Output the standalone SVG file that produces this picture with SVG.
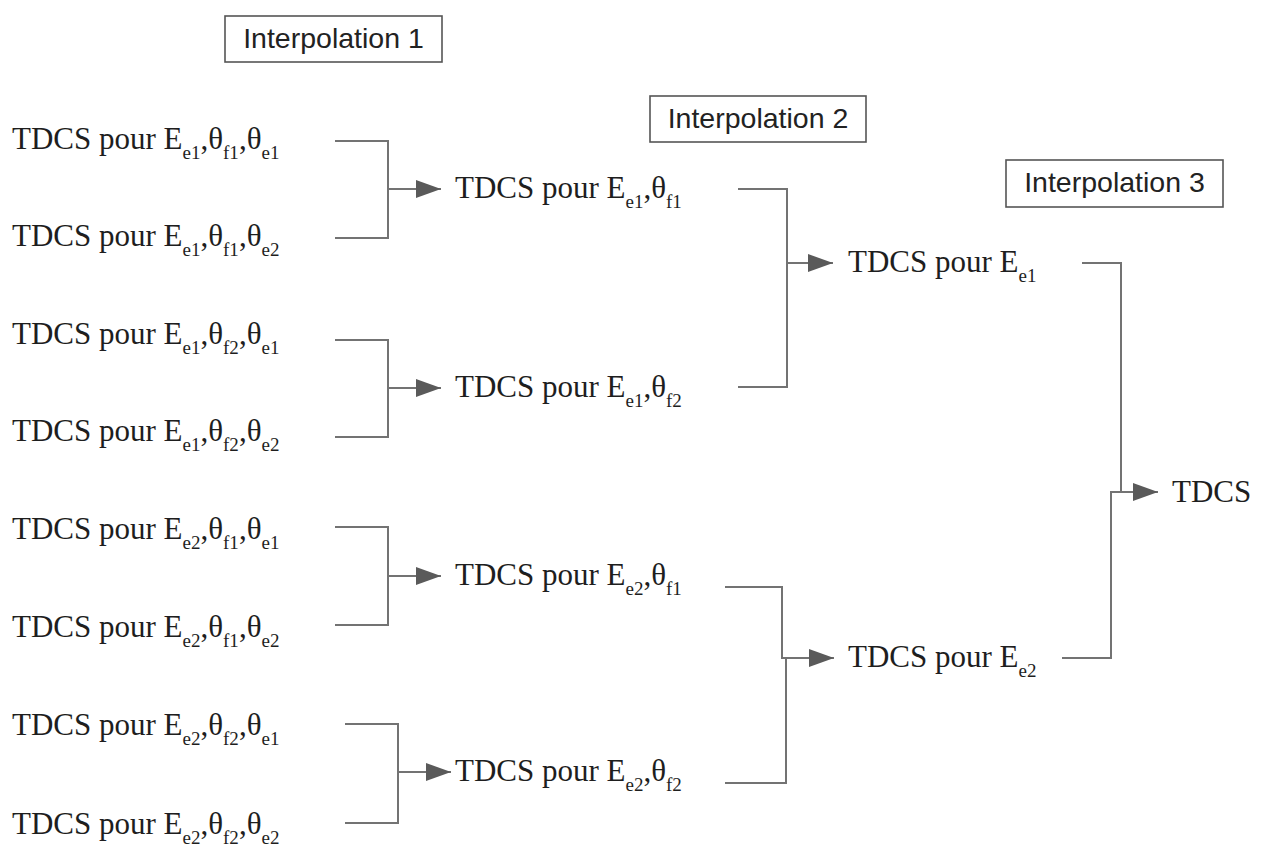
<svg xmlns="http://www.w3.org/2000/svg" width="1269" height="853" viewBox="0 0 1269 853">
<style>
.lbl{font-family:"Liberation Serif","Times New Roman",serif;font-size:31px;fill:#1e1e1e}
.sub{font-size:19px}
.box rect{fill:#fff;stroke:#555;stroke-width:1.6}
.box text{font-family:"Liberation Sans",Arial,sans-serif;font-size:28.5px;fill:#222;text-anchor:middle}
.con path{fill:none;stroke:#737373;stroke-width:2}
.arr{marker-end:url(#ah)}
</style>
<defs>
<marker id="ah" markerUnits="userSpaceOnUse" markerWidth="25" markerHeight="20" refX="25" refY="10" orient="auto">
<path d="M0,1 L25,10 L0,19 z" fill="#5a5a5a"/>
</marker>
</defs>
<rect width="1269" height="853" fill="#fff"/>
<g id="box-interp1" class="box"><rect x="225" y="16" width="217" height="46"/><text x="333.5" y="48">Interpolation 1</text></g>
<g id="box-interp2" class="box"><rect x="650" y="96" width="216" height="46"/><text x="758" y="128">Interpolation 2</text></g>
<g id="box-interp3" class="box"><rect x="1006" y="160" width="217" height="47"/><text x="1114.5" y="192">Interpolation 3</text></g>

<g id="connectors" class="con">
<path d="M335,141 H388 V238 H335"/>
<path class="arr" d="M388,189 H441"/>
<path d="M335,340 H388 V437 H335"/>
<path class="arr" d="M388,388 H441"/>
<path d="M335,527 H388 V625 H335"/>
<path class="arr" d="M388,576 H441"/>
<path d="M345,724 H398 V823 H345"/>
<path class="arr" d="M398,772 H451"/>
<path d="M738,189 H787 V387 H738"/>
<path class="arr" d="M787,263 H833"/>
<path d="M725,587 H782 V658 H786 V783 H725"/>
<path class="arr" d="M782,658 H834"/>
<path d="M1082,263 H1121 V492"/>
<path d="M1062,658 H1111 V492 H1121"/>
<path class="arr" d="M1111,492 H1158"/>
</g>

<g id="n-e1f1e1"><text class="lbl" x="12" y="149">TDCS pour E<tspan class="sub" dy="10">e1</tspan><tspan dy="-10">,θ</tspan><tspan class="sub" dy="10">f1</tspan><tspan dy="-10">,θ</tspan><tspan class="sub" dy="10">e1</tspan></text></g>
<g id="n-e1f1e2"><text class="lbl" x="12" y="246">TDCS pour E<tspan class="sub" dy="10">e1</tspan><tspan dy="-10">,θ</tspan><tspan class="sub" dy="10">f1</tspan><tspan dy="-10">,θ</tspan><tspan class="sub" dy="10">e2</tspan></text></g>
<g id="n-e1f2e1"><text class="lbl" x="12" y="344">TDCS pour E<tspan class="sub" dy="10">e1</tspan><tspan dy="-10">,θ</tspan><tspan class="sub" dy="10">f2</tspan><tspan dy="-10">,θ</tspan><tspan class="sub" dy="10">e1</tspan></text></g>
<g id="n-e1f2e2"><text class="lbl" x="12" y="441">TDCS pour E<tspan class="sub" dy="10">e1</tspan><tspan dy="-10">,θ</tspan><tspan class="sub" dy="10">f2</tspan><tspan dy="-10">,θ</tspan><tspan class="sub" dy="10">e2</tspan></text></g>
<g id="n-e2f1e1"><text class="lbl" x="12" y="539">TDCS pour E<tspan class="sub" dy="10">e2</tspan><tspan dy="-10">,θ</tspan><tspan class="sub" dy="10">f1</tspan><tspan dy="-10">,θ</tspan><tspan class="sub" dy="10">e1</tspan></text></g>
<g id="n-e2f1e2"><text class="lbl" x="12" y="637">TDCS pour E<tspan class="sub" dy="10">e2</tspan><tspan dy="-10">,θ</tspan><tspan class="sub" dy="10">f1</tspan><tspan dy="-10">,θ</tspan><tspan class="sub" dy="10">e2</tspan></text></g>
<g id="n-e2f2e1"><text class="lbl" x="12" y="735">TDCS pour E<tspan class="sub" dy="10">e2</tspan><tspan dy="-10">,θ</tspan><tspan class="sub" dy="10">f2</tspan><tspan dy="-10">,θ</tspan><tspan class="sub" dy="10">e1</tspan></text></g>
<g id="n-e2f2e2"><text class="lbl" x="12" y="834">TDCS pour E<tspan class="sub" dy="10">e2</tspan><tspan dy="-10">,θ</tspan><tspan class="sub" dy="10">f2</tspan><tspan dy="-10">,θ</tspan><tspan class="sub" dy="10">e2</tspan></text></g>

<g id="n-e1f1"><text class="lbl" x="455" y="198">TDCS pour E<tspan class="sub" dy="10">e1</tspan><tspan dy="-10">,θ</tspan><tspan class="sub" dy="10">f1</tspan></text></g>
<g id="n-e1f2"><text class="lbl" x="455" y="397">TDCS pour E<tspan class="sub" dy="10">e1</tspan><tspan dy="-10">,θ</tspan><tspan class="sub" dy="10">f2</tspan></text></g>
<g id="n-e2f1"><text class="lbl" x="455" y="585">TDCS pour E<tspan class="sub" dy="10">e2</tspan><tspan dy="-10">,θ</tspan><tspan class="sub" dy="10">f1</tspan></text></g>
<g id="n-e2f2"><text class="lbl" x="455" y="781">TDCS pour E<tspan class="sub" dy="10">e2</tspan><tspan dy="-10">,θ</tspan><tspan class="sub" dy="10">f2</tspan></text></g>

<g id="n-e1"><text class="lbl" x="848" y="272">TDCS pour E<tspan class="sub" dy="10">e1</tspan></text></g>
<g id="n-e2"><text class="lbl" x="848" y="667">TDCS pour E<tspan class="sub" dy="10">e2</tspan></text></g>
<g id="n-tdcs"><text class="lbl" x="1172" y="502">TDCS</text></g>
</svg>
